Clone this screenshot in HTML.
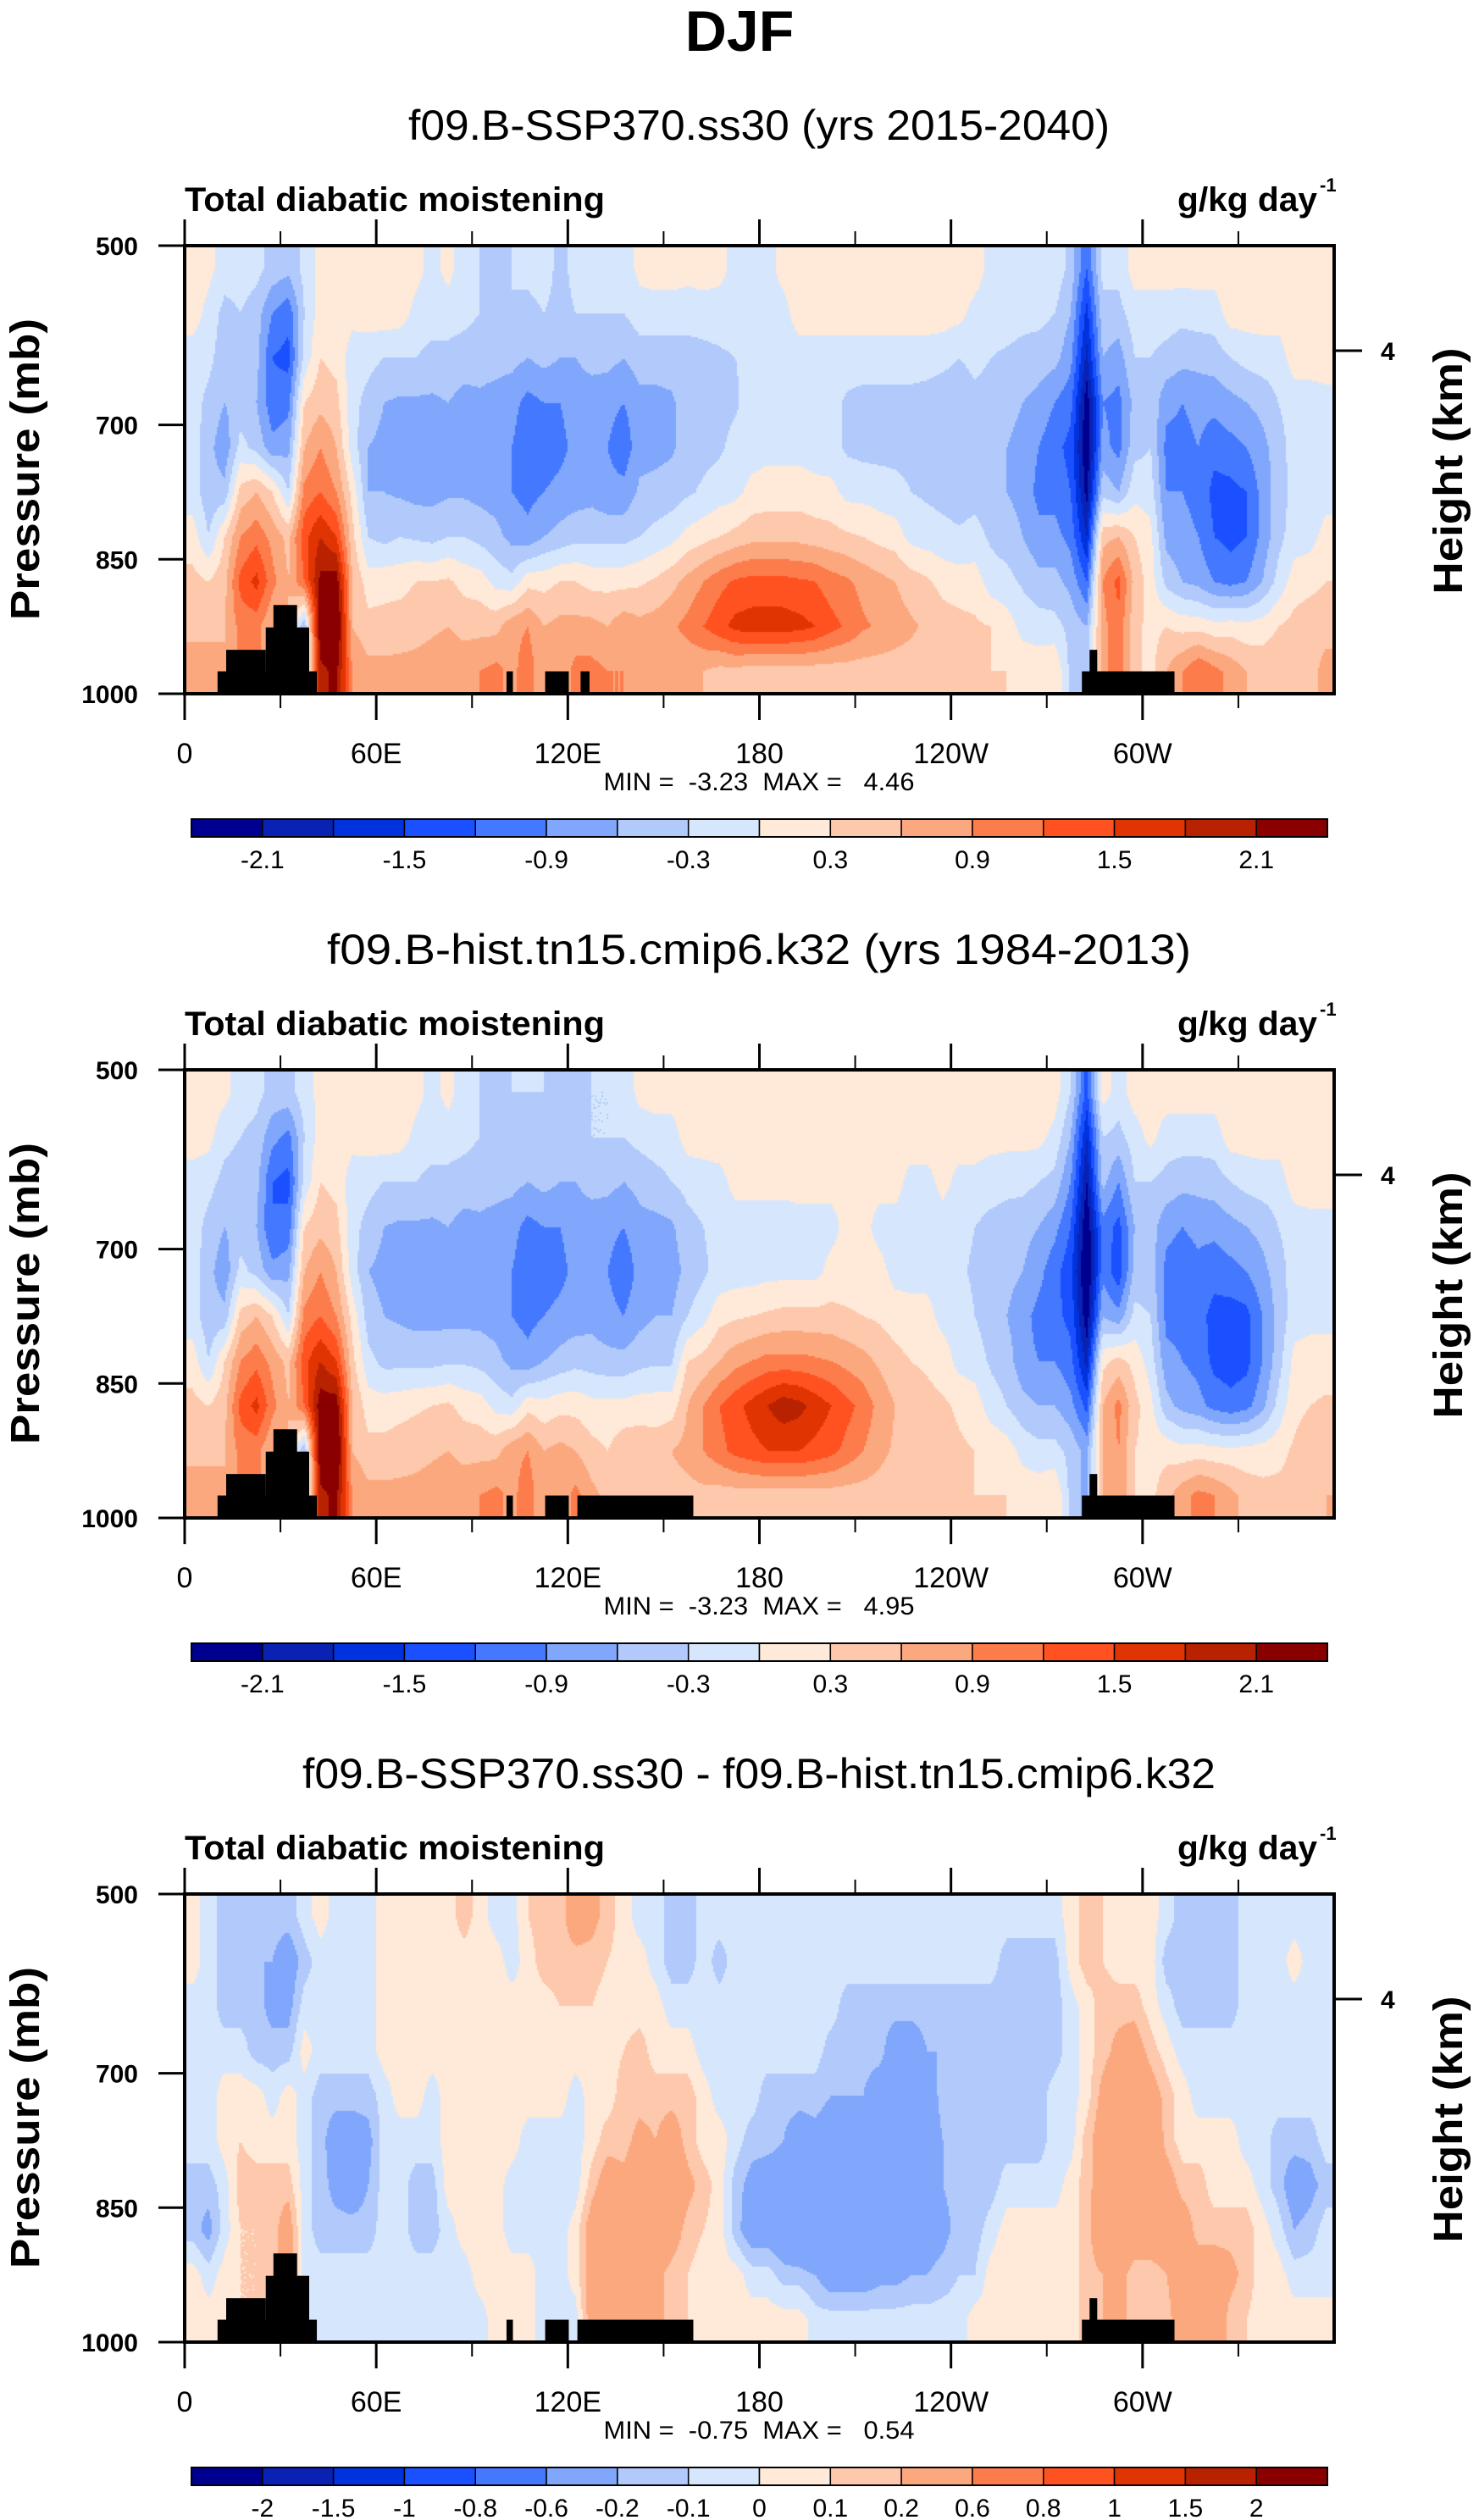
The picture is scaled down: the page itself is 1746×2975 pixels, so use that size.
<!DOCTYPE html>
<html><head><meta charset="utf-8">
<style>
html,body{margin:0;padding:0;background:#fff;}
#wrap{position:relative;width:1746px;height:2975px;overflow:hidden;background:#fff;}
canvas{position:absolute;}
svg{position:absolute;left:0;top:0;}
text{font-family:"Liberation Sans",sans-serif;fill:#000;}
</style></head>
<body>
<div id="wrap">
<canvas id="c0" width="1357" height="529" style="left:218px;top:290px"></canvas>
<canvas id="c1" width="1357" height="529" style="left:218px;top:1263px"></canvas>
<canvas id="c2" width="1357" height="529" style="left:218px;top:2236px"></canvas>
<svg id="ov" width="1746" height="2975">
<text x="873" y="60" font-size="68" font-weight="bold" text-anchor="middle">DJF</text>
</svg>
</div>
<script>
// ---- chart data ----
const levelsAbs = [-2.1,-1.8,-1.5,-1.2,-0.9,-0.6,-0.3,0,0.3,0.6,0.9,1.2,1.5,1.8,2.1];
const labelsAbs = ['-2.1','','-1.5','','-0.9','','-0.3','','0.3','','0.9','','1.5','','2.1'];
const levelsDiff = [-2,-1.5,-1,-0.8,-0.6,-0.2,-0.1,0,0.1,0.2,0.6,0.8,1,1.5,2];
const labelsDiff = ['-2','-1.5','-1','-0.8','-0.6','-0.2','-0.1','0','0.1','0.2','0.6','0.8','1','1.5','2'];
const fillColors = ['#000090','#0a22b4','#0033dd','#1a50ff','#4478ff','#80a7fb','#b2cafb','#d6e7fd','#ffe9d8','#fdc8ac','#fca87f','#fc7c4c','#ff5220','#e03402','#b82200','#8a0000'];
const lonTicks = [0,60,120,180,240,300];
const lonTickLabels = ['0','60E','120E','180','120W','60W'];
const lonMinor = [30,90,150,210,270,330];
const presTicks = [500,700,850,1000];
const presTickLabels = ['500','700','850','1000'];
const titles = ['f09.B-SSP370.ss30 (yrs 2015-2040)','f09.B-hist.tn15.cmip6.k32 (yrs 1984-2013)','f09.B-SSP370.ss30 - f09.B-hist.tn15.cmip6.k32'];
const titleWidths = [828, 1020, 1078];
const minMaxText = ['MIN =  -3.23  MAX =   4.46','MIN =  -3.23  MAX =   4.95','MIN =  -0.75  MAX =   0.54'];
// topography blocks: [lonStart, lonEnd, topPressure]
const topo1 = [[10.3,41.4,975],[13,25.4,951],[25.4,39,926],[27.8,35.2,901],[100.8,102.8,975],[112.9,120.3,975],[124,126.8,975],[281,310,975],[283.4,285.8,951]];
const topo2 = [[10.3,41.4,975],[13,25.4,951],[25.4,39,926],[27.8,35.2,901],[100.8,102.8,975],[112.9,120.3,975],[123,159.3,975],[281,310,975],[283.4,285.8,951]];
const topo3 = [[10.3,41.4,975],[13,25.4,951],[25.4,39,926],[27.8,35.2,901],[100.8,102.8,975],[112.9,120.3,975],[123,159.3,975],[281,310,975],[283.4,285.8,951]];
// field values: one row per 5-degree longitude column (2.5E..357.5E), levels 525..975 mb
const field1 = [
[0.15,0.15,-0.15,-0.15,-0.15,-0.15,0.15,0.4,0.5,0.8],
[0.1,-0.1,-0.2,-0.4,-0.5,-0.5,-0.3,0.3,0.5,0.8],
[-0.15,-0.4,-0.5,-0.6,-0.8,-0.5,0.3,0.5,0.6,0.6],
[-0.15,-0.3,-0.45,-0.45,-0.2,0.4,0.9,1.3,1.0,1.0],
[-0.2,-0.45,-0.5,-0.6,-0.4,0.6,1.1,1.6,1.0,1.0],
[-0.4,-0.9,-1.2,-1.1,-0.8,0.3,0.8,1.0,0.6,0.6],
[-0.5,-1.1,-1.3,-1.0,-0.7,-0.3,0.5,0.6,0.6,0.6],
[-0.2,-0.3,-0.2,0.3,0.6,1.0,1.4,1.2,-0.6,-0.6],
[0.1,0.15,0.3,0.5,0.9,1.2,1.8,2.2,2.4,2.0],
[0.1,0.15,0.2,0.4,0.6,0.9,1.5,2.3,2.6,2.2],
[0.15,0.1,-0.15,-0.2,-0.15,0.2,0.4,0.6,0.6,0.9],
[0.15,0.15,-0.2,-0.4,-0.6,-0.6,-0.3,0.15,0.4,0.7],
[0.2,0.2,-0.3,-0.6,-0.7,-0.6,-0.4,0.2,0.4,0.7],
[0.2,0.15,-0.3,-0.65,-0.75,-0.65,-0.3,0.2,0.45,0.7],
[0.1,-0.1,-0.3,-0.65,-0.75,-0.7,-0.35,0.3,0.5,0.7],
[-0.1,-0.15,-0.4,-0.65,-0.75,-0.7,-0.4,0.3,0.55,0.75],
[0.1,-0.15,-0.4,-0.6,-0.75,-0.65,-0.3,0.35,0.6,0.8],
[-0.15,-0.2,-0.45,-0.7,-0.8,-0.65,-0.3,0.2,0.5,0.8],
[-0.3,-0.3,-0.5,-0.65,-0.8,-0.7,-0.4,0.15,0.5,0.9],
[-0.4,-0.35,-0.5,-0.7,-0.8,-0.75,-0.5,-0.1,0.5,1.0],
[-0.3,-0.3,-0.5,-0.8,-0.9,-0.9,-0.7,-0.2,0.8,0.8],
[-0.2,-0.4,-0.6,-1.0,-1.1,-1.0,-0.8,0.2,0.9,1.1],
[-0.15,-0.3,-0.5,-0.9,-1.1,-0.9,-0.6,0.2,0.6,0.6],
[-0.4,-0.4,-0.6,-0.9,-1.0,-0.8,-0.5,0.3,0.7,0.7],
[-0.2,-0.3,-0.6,-0.75,-0.8,-0.75,-0.4,0.3,0.7,1.0],
[-0.2,-0.3,-0.5,-0.75,-0.8,-0.7,-0.4,0.2,0.7,1.0],
[-0.1,-0.3,-0.5,-0.8,-0.9,-0.8,-0.4,0.2,0.6,0.9],
[-0.2,-0.3,-0.6,-0.9,-1.1,-0.8,-0.4,0.2,0.8,0.9],
[0.1,-0.15,-0.45,-0.7,-0.7,-0.55,-0.3,0.25,0.7,0.7],
[0.15,-0.15,-0.45,-0.7,-0.7,-0.5,-0.2,0.35,0.75,0.7],
[0.15,-0.15,-0.45,-0.65,-0.65,-0.45,-0.1,0.5,0.85,0.7],
[0.1,-0.15,-0.45,-0.45,-0.45,-0.35,0.1,0.7,1.0,0.65],
[0.15,-0.15,-0.4,-0.45,-0.4,-0.25,0.2,0.9,1.2,0.6],
[0.1,-0.15,-0.35,-0.4,-0.35,-0.15,0.3,1.1,1.4,0.5],
[-0.1,-0.15,-0.3,-0.35,-0.2,-0.1,0.4,1.25,1.6,0.5],
[-0.1,-0.1,-0.2,-0.15,-0.15,0.1,0.5,1.3,1.65,0.45],
[-0.1,-0.1,-0.15,-0.15,-0.1,0.15,0.5,1.3,1.65,0.45],
[0.1,-0.1,-0.15,-0.15,-0.1,0.15,0.5,1.3,1.65,0.45],
[0.15,0.15,-0.15,-0.15,-0.1,0.15,0.5,1.25,1.6,0.45],
[0.15,0.15,-0.15,-0.15,-0.15,0.1,0.45,1.2,1.5,0.45],
[0.15,0.15,-0.15,-0.2,-0.2,0.1,0.4,1.05,1.3,0.45],
[0.15,0.15,-0.15,-0.35,-0.35,-0.1,0.35,0.95,1.15,0.45],
[0.15,0.15,-0.15,-0.4,-0.4,-0.1,0.3,0.8,0.95,0.45],
[0.15,0.15,-0.15,-0.4,-0.4,-0.15,0.2,0.7,0.85,0.45],
[0.15,0.15,-0.15,-0.4,-0.4,-0.2,0.15,0.6,0.75,0.45],
[0.15,0.15,-0.15,-0.4,-0.4,-0.3,-0.1,0.45,0.65,0.45],
[0.15,0.15,-0.15,-0.45,-0.45,-0.35,-0.15,0.35,0.55,0.4],
[0.15,0.15,-0.2,-0.5,-0.5,-0.4,-0.2,0.2,0.45,0.35],
[0.15,0.1,-0.3,-0.55,-0.55,-0.45,-0.25,0.15,0.4,0.3],
[0.15,-0.1,-0.2,-0.4,-0.45,-0.4,-0.2,0.15,0.35,0.3],
[-0.1,-0.15,-0.3,-0.45,-0.5,-0.45,-0.35,-0.15,0.3,0.3],
[-0.1,-0.15,-0.35,-0.5,-0.6,-0.6,-0.45,-0.2,0.15,0.3],
[-0.1,-0.2,-0.4,-0.6,-0.7,-0.7,-0.6,-0.35,-0.1,0.2],
[-0.1,-0.2,-0.45,-0.7,-0.9,-1.0,-0.8,-0.5,-0.15,0.2],
[-0.1,-0.3,-0.5,-0.9,-1.1,-1.0,-0.8,-0.5,-0.2,0.3],
[-0.4,-0.6,-0.8,-1.1,-1.3,-1.2,-1.0,-0.7,-0.4,-0.4],
[-1.2,-1.6,-1.9,-2.3,-2.4,-2.2,-1.8,-1.2,-0.6,-0.6],
[-0.2,-0.4,-0.6,-0.9,-0.8,-0.4,0.5,0.9,0.8,0.8],
[-0.2,-0.4,-0.75,-1.0,-1.0,-0.6,0.6,1.3,1.1,1.1],
[0.15,-0.15,-0.3,-0.5,-0.4,-0.1,0.3,0.5,0.4,0.4],
[0.15,-0.15,-0.3,-0.4,-0.3,-0.15,0.1,0.15,0.2,0.2],
[0.15,-0.15,-0.4,-0.8,-1.0,-0.9,-0.7,-0.4,0.3,0.6],
[0.15,-0.2,-0.5,-0.9,-1.0,-0.9,-0.8,-0.6,0.2,0.9],
[0.15,-0.15,-0.5,-0.8,-0.9,-1.0,-0.9,-0.7,0.2,1.2],
[0.15,-0.15,-0.45,-0.8,-1.1,-1.3,-1.2,-0.9,0.1,1.0],
[0.15,0.15,-0.3,-0.7,-1.0,-1.3,-1.3,-1.0,0.15,0.8],
[0.15,0.15,-0.2,-0.6,-0.9,-1.2,-1.2,-0.9,0.1,0.6],
[0.15,0.15,-0.15,-0.5,-0.7,-0.8,-0.8,-0.6,0.15,0.5],
[0.15,0.15,-0.15,-0.3,-0.45,-0.45,-0.4,-0.2,0.3,0.5],
[0.15,0.15,0.15,-0.15,-0.15,-0.2,-0.15,0.15,0.4,0.5],
[0.15,0.15,0.15,-0.15,-0.15,-0.15,-0.1,0.2,0.5,0.5],
[0.15,0.15,0.15,-0.1,-0.1,-0.1,0.1,0.3,0.5,0.7]
];
const field2 = [
[0.15,0.15,-0.15,-0.15,-0.15,-0.15,0.15,0.4,0.5,0.8],
[0.15,0.1,-0.2,-0.4,-0.5,-0.5,-0.3,0.3,0.5,0.8],
[0.1,-0.2,-0.4,-0.6,-0.8,-0.5,0.3,0.5,0.6,0.6],
[-0.15,-0.3,-0.45,-0.45,-0.2,0.4,0.9,1.3,1.0,1.0],
[-0.2,-0.4,-0.5,-0.6,-0.4,0.6,1.1,1.6,1.0,1.0],
[-0.4,-0.8,-1.2,-1.2,-0.8,0.3,0.8,1.0,0.6,0.6],
[-0.4,-1.0,-1.3,-1.1,-0.7,-0.3,0.5,0.6,0.6,0.6],
[-0.15,-0.3,-0.2,0.3,0.6,1.0,1.4,1.2,-0.6,-0.6],
[0.1,0.15,0.3,0.5,0.9,1.2,1.8,2.3,2.4,2.0],
[0.1,0.15,0.2,0.4,0.6,0.9,1.5,2.3,2.6,2.2],
[0.15,0.1,-0.15,-0.2,-0.15,0.2,0.4,0.6,0.6,0.9],
[0.15,0.15,-0.2,-0.4,-0.6,-0.45,-0.2,0.15,0.4,0.7],
[0.2,0.2,-0.3,-0.6,-0.7,-0.6,-0.4,0.15,0.4,0.7],
[0.2,0.15,-0.3,-0.65,-0.75,-0.65,-0.4,0.2,0.45,0.7],
[0.1,-0.1,-0.3,-0.65,-0.75,-0.7,-0.4,0.25,0.5,0.7],
[-0.1,-0.15,-0.4,-0.65,-0.75,-0.7,-0.4,0.3,0.55,0.75],
[0.1,-0.15,-0.4,-0.6,-0.75,-0.7,-0.35,0.35,0.6,0.8],
[-0.15,-0.2,-0.45,-0.7,-0.8,-0.7,-0.35,0.2,0.5,0.8],
[-0.3,-0.3,-0.5,-0.65,-0.8,-0.7,-0.4,0.15,0.5,0.9],
[-0.4,-0.35,-0.5,-0.7,-0.8,-0.75,-0.5,-0.1,0.5,1.0],
[-0.3,-0.3,-0.5,-0.8,-0.9,-0.9,-0.7,-0.2,0.8,0.8],
[-0.3,-0.4,-0.6,-1.0,-1.1,-1.0,-0.8,0.2,0.9,1.1],
[-0.3,-0.3,-0.5,-0.9,-1.1,-0.9,-0.6,0.1,0.6,0.6],
[-0.4,-0.4,-0.6,-0.9,-1.0,-0.8,-0.5,0.2,0.7,0.7],
[-0.4,-0.3,-0.6,-0.75,-0.8,-0.75,-0.4,0.2,0.6,1.0],
[-0.3,-0.3,-0.5,-0.75,-0.8,-0.7,-0.45,0.1,0.4,0.7],
[-0.3,-0.3,-0.5,-0.8,-0.9,-0.8,-0.5,0.1,0.3,0.5],
[-0.2,-0.3,-0.6,-0.9,-1.1,-0.9,-0.5,0.1,0.5,0.5],
[0.1,-0.2,-0.5,-0.7,-0.8,-0.7,-0.4,0.15,0.5,0.5],
[0.15,-0.15,-0.4,-0.7,-0.75,-0.6,-0.35,0.15,0.45,0.45],
[0.15,-0.15,-0.3,-0.65,-0.75,-0.6,-0.35,0.15,0.6,0.5],
[0.15,0.15,-0.2,-0.4,-0.5,-0.3,0.3,0.6,0.7,0.5],
[0.15,0.15,-0.15,-0.3,-0.35,-0.1,0.4,0.9,0.9,0.5],
[0.15,0.15,-0.1,-0.2,-0.2,0.2,0.6,1.2,1.1,0.45],
[0.15,0.15,0.1,-0.15,-0.15,0.25,0.8,1.4,1.3,0.45],
[0.15,0.15,0.1,-0.15,-0.15,0.3,0.9,1.6,1.4,0.45],
[0.15,0.15,0.1,-0.15,-0.1,0.35,1.0,1.8,1.5,0.45],
[0.15,0.15,0.1,-0.15,-0.1,0.4,1.0,2.0,1.5,0.45],
[0.15,0.15,0.1,-0.1,-0.1,0.4,1.0,1.9,1.5,0.45],
[0.15,0.15,0.1,-0.1,-0.1,0.4,0.95,1.7,1.4,0.45],
[0.15,0.15,0.1,-0.1,0.1,0.4,0.9,1.5,1.3,0.45],
[0.15,0.15,0.1,0.1,0.1,0.35,0.8,1.3,1.1,0.45],
[0.15,0.15,0.1,0.1,0.1,0.3,0.7,1.1,0.9,0.45],
[0.15,0.15,0.1,-0.1,0.1,0.25,0.55,0.8,0.7,0.45],
[0.15,0.15,0.1,-0.1,-0.1,0.15,0.4,0.6,0.55,0.4],
[0.15,0.15,-0.1,-0.1,-0.1,0.1,0.3,0.45,0.5,0.35],
[0.15,0.15,-0.1,-0.15,-0.1,0.1,0.25,0.4,0.45,0.35],
[0.15,0.15,0.1,-0.15,-0.15,-0.1,0.15,0.35,0.4,0.3],
[0.15,0.15,-0.1,-0.2,-0.25,-0.15,-0.1,0.25,0.35,0.3],
[0.15,0.15,-0.1,-0.3,-0.35,-0.3,-0.15,0.15,0.3,0.3],
[0.15,0.1,-0.15,-0.4,-0.45,-0.45,-0.35,-0.15,0.25,0.3],
[0.15,0.1,-0.2,-0.45,-0.5,-0.6,-0.45,-0.3,0.15,0.3],
[0.15,0.1,-0.2,-0.5,-0.6,-0.8,-0.8,-0.5,-0.1,0.2],
[0.15,0.1,-0.3,-0.6,-0.8,-1.0,-0.9,-0.6,-0.2,0.2],
[0.15,-0.1,-0.4,-0.8,-1.1,-1.1,-0.9,-0.6,-0.2,0.3],
[-0.3,-0.6,-0.9,-1.2,-1.4,-1.3,-1.1,-0.8,-0.4,-0.4],
[-1.3,-1.8,-2.1,-2.4,-2.5,-2.3,-1.9,-1.3,-0.7,-0.7],
[0.15,-0.3,-0.5,-1.0,-1.0,-0.6,0.2,0.6,0.6,0.6],
[-0.15,-0.4,-0.9,-1.3,-1.4,-0.8,0.4,1.0,0.9,0.9],
[0.15,-0.15,-0.3,-0.6,-0.5,-0.2,0.2,0.4,0.3,0.3],
[0.15,0.1,-0.3,-0.45,-0.45,-0.3,-0.15,0.1,0.2,0.2],
[0.15,-0.15,-0.4,-0.8,-1.0,-1.0,-0.8,-0.5,0.2,0.5],
[0.15,-0.15,-0.5,-0.9,-1.1,-1.0,-0.9,-0.7,0.1,0.8],
[0.15,-0.15,-0.5,-0.8,-1.0,-1.1,-1.0,-0.8,0.15,1.0],
[0.15,-0.15,-0.45,-0.8,-1.1,-1.3,-1.3,-1.0,0.1,0.9],
[0.15,0.15,-0.3,-0.7,-1.0,-1.35,-1.35,-1.1,0.1,0.7],
[0.15,0.15,-0.2,-0.6,-0.9,-1.3,-1.3,-1.0,0.1,0.5],
[0.15,0.15,-0.15,-0.5,-0.7,-0.9,-0.9,-0.7,0.15,0.4],
[0.15,0.15,-0.15,-0.3,-0.45,-0.5,-0.45,-0.2,0.2,0.4],
[0.15,0.15,0.15,-0.15,-0.15,-0.15,0.1,0.2,0.35,0.4],
[0.2,0.15,0.15,-0.1,-0.15,-0.1,0.15,0.3,0.5,0.5],
[0.15,0.15,0.15,-0.1,-0.1,-0.1,0.15,0.35,0.5,0.6]
];
const field3 = [
[0.05,0.05,-0.05,-0.05,-0.05,-0.05,-0.15,-0.15,0.05,0.05],
[-0.05,-0.05,-0.05,-0.05,-0.05,-0.05,-0.15,-0.25,-0.05,0.05],
[-0.15,-0.15,-0.15,-0.05,0.05,0.05,-0.05,-0.05,0.05,0.05],
[-0.15,-0.2,-0.15,-0.05,0.05,0.1,0.15,0.1,0.1,0.1],
[-0.15,-0.2,-0.15,-0.15,0.05,0.05,0.15,0.1,0.1,0.1],
[-0.15,-0.2,-0.25,-0.15,-0.05,0.05,0.15,0.15,0.15,0.15],
[-0.15,-0.3,-0.25,-0.15,0.05,0.05,0.15,0.3,0.3,0.3],
[-0.05,-0.15,-0.05,0.05,-0.05,-0.05,-0.05,-0.05,-0.05,-0.05],
[0.05,-0.05,-0.05,-0.05,-0.15,-0.15,-0.15,-0.15,-0.05,-0.05],
[-0.05,-0.05,-0.05,-0.05,-0.15,-0.3,-0.25,-0.15,-0.05,-0.05],
[-0.05,-0.05,-0.05,-0.05,-0.15,-0.3,-0.3,-0.15,-0.05,-0.05],
[-0.05,-0.05,-0.05,-0.05,-0.15,-0.25,-0.2,-0.15,-0.05,-0.05],
[0.05,0.05,0.05,0.05,-0.05,-0.05,-0.05,-0.05,-0.05,-0.05],
[0.05,0.05,0.05,0.05,0.05,-0.05,-0.05,-0.05,-0.05,-0.05],
[0.05,0.05,0.05,0.05,0.05,-0.05,-0.15,-0.15,-0.05,-0.05],
[0.05,0.05,0.05,0.05,-0.05,-0.05,-0.15,-0.15,-0.05,-0.05],
[0.05,0.05,0.05,0.05,0.05,0.05,0.05,-0.05,-0.05,-0.05],
[0.15,0.05,0.05,0.05,0.05,0.05,0.05,0.05,-0.05,-0.05],
[0.05,0.05,0.05,0.05,0.05,0.05,0.05,0.05,0.05,-0.05],
[-0.05,0.05,0.05,0.05,0.05,0.05,0.05,0.05,0.05,0.05],
[-0.05,-0.05,0.05,0.05,0.05,0.05,-0.05,-0.05,0.05,0.05],
[0.1,0.05,0.05,0.05,0.05,-0.05,-0.05,-0.05,0.05,0.05],
[0.15,0.15,0.05,0.05,0.05,-0.05,-0.05,-0.05,-0.05,-0.05],
[0.15,0.15,0.1,0.05,0.05,-0.05,-0.05,-0.05,-0.05,-0.05],
[0.3,0.15,0.1,0.05,-0.05,-0.05,-0.05,0.05,0.05,-0.05],
[0.25,0.15,0.1,0.05,0.05,0.05,0.15,0.3,0.3,0.3],
[0.15,0.1,0.05,0.05,0.05,0.15,0.3,0.4,0.3,0.3],
[0.05,0.05,0.05,0.1,0.15,0.15,0.25,0.35,0.3,0.3],
[-0.05,0.05,0.05,0.15,0.15,0.25,0.35,0.4,0.3,0.3],
[-0.05,-0.05,0.05,0.05,0.15,0.2,0.3,0.4,0.25,0.25],
[-0.15,-0.15,-0.05,0.05,0.15,0.3,0.4,0.3,0.15,0.15],
[-0.15,-0.15,-0.05,0.05,0.15,0.15,0.25,0.15,0.1,0.1],
[-0.05,-0.05,-0.05,-0.05,0.05,0.05,0.15,0.1,0.05,0.05],
[-0.05,-0.15,-0.05,-0.05,-0.05,0.05,0.05,0.05,0.05,0.05],
[-0.05,-0.05,-0.05,-0.05,-0.05,-0.05,-0.15,-0.15,0.05,0.05],
[-0.05,-0.05,-0.05,-0.05,-0.05,-0.15,-0.25,-0.3,-0.05,0.05],
[-0.05,-0.05,-0.05,-0.05,-0.15,-0.15,-0.3,-0.3,-0.05,0.05],
[-0.05,-0.05,-0.05,-0.05,-0.15,-0.2,-0.3,-0.35,-0.15,0.05],
[-0.05,-0.05,-0.05,-0.05,-0.15,-0.3,-0.35,-0.45,-0.15,0.05],
[-0.05,-0.05,-0.05,-0.05,-0.15,-0.25,-0.35,-0.6,-0.2,-0.05],
[-0.05,-0.05,-0.05,-0.15,-0.2,-0.3,-0.4,-0.5,-0.3,-0.05],
[-0.05,-0.05,-0.15,-0.15,-0.2,-0.3,-0.4,-0.45,-0.3,-0.05],
[-0.05,-0.05,-0.15,-0.15,-0.2,-0.3,-0.4,-0.4,-0.3,-0.05],
[-0.05,-0.05,-0.15,-0.15,-0.3,-0.3,-0.35,-0.4,-0.25,-0.05],
[-0.05,-0.05,-0.15,-0.3,-0.3,-0.35,-0.4,-0.35,-0.25,-0.05],
[-0.05,-0.05,-0.15,-0.3,-0.35,-0.35,-0.35,-0.35,-0.2,-0.05],
[-0.05,-0.05,-0.15,-0.2,-0.3,-0.3,-0.3,-0.3,-0.2,-0.05],
[-0.05,-0.05,-0.15,-0.2,-0.15,-0.2,-0.2,-0.25,-0.15,-0.05],
[-0.05,-0.05,-0.15,-0.15,-0.15,-0.15,-0.15,-0.15,-0.1,-0.05],
[-0.05,-0.05,-0.15,-0.15,-0.15,-0.2,-0.15,-0.15,-0.1,0.05],
[-0.05,-0.05,-0.15,-0.15,-0.15,-0.15,-0.15,-0.05,0.05,0.05],
[-0.05,-0.15,-0.15,-0.15,-0.15,-0.15,-0.05,0.05,0.05,0.05],
[-0.05,-0.15,-0.15,-0.15,-0.15,-0.15,-0.05,0.05,0.05,0.05],
[-0.05,-0.15,-0.15,-0.15,-0.15,-0.15,-0.05,0.05,0.05,0.05],
[-0.05,-0.15,-0.15,-0.15,-0.05,-0.05,-0.05,0.05,0.05,0.05],
[0.05,0.05,-0.05,-0.05,-0.05,-0.05,0.05,0.05,0.05,0.05],
[0.15,0.15,0.05,0.05,0.05,0.15,0.15,0.15,0.15,0.15],
[0.1,0.1,0.15,0.15,0.25,0.3,0.3,0.35,0.2,0.2],
[0.05,0.05,0.15,0.25,0.35,0.4,0.4,0.35,0.25,0.25],
[0.05,0.05,0.15,0.3,0.4,0.4,0.4,0.3,0.15,0.15],
[0.05,0.05,0.05,0.15,0.3,0.4,0.35,0.3,0.15,0.15],
[-0.05,-0.15,-0.05,0.05,0.15,0.15,0.3,0.3,0.2,0.15],
[-0.15,-0.15,-0.15,-0.05,0.05,0.05,0.15,0.3,0.3,0.3],
[-0.15,-0.2,-0.15,-0.05,-0.05,0.05,0.15,0.15,0.3,0.4],
[-0.15,-0.2,-0.15,-0.05,-0.05,0.05,0.05,0.15,0.3,0.35],
[-0.15,-0.15,-0.15,-0.05,-0.05,0.05,0.05,0.15,0.25,0.15],
[-0.05,-0.05,-0.05,-0.05,-0.05,-0.05,0.05,0.15,0.15,0.1],
[-0.05,-0.05,-0.05,-0.05,-0.05,-0.05,-0.05,0.05,0.05,0.05],
[-0.05,-0.05,-0.05,-0.05,-0.05,-0.15,-0.15,-0.05,0.05,0.05],
[-0.05,0.05,-0.05,-0.05,-0.05,-0.15,-0.3,-0.2,-0.05,0.05],
[-0.05,-0.05,-0.05,-0.05,-0.05,-0.15,-0.25,-0.15,-0.05,0.05],
[-0.05,-0.05,-0.05,-0.05,-0.05,-0.05,-0.15,-0.05,-0.05,0.05]
];

// ---- layout ----
const PX0 = 218, PW = 1357, PH = 529;
const panelTop = [290, 1263, 2236];
const panels = [
  {field: field1, topo: topo1, levels: levelsAbs, labels: labelsAbs},
  {field: field2, topo: topo2, levels: levelsAbs, labels: labelsAbs},
  {field: field3, topo: topo3, levels: levelsDiff, labels: labelsDiff}
];
const NS = 'http://www.w3.org/2000/svg';
const ov = document.getElementById('ov');
function xOf(lon){ return PX0 + lon/360*PW; }
function yOf(top, p){ return top + (p-500)/500*PH; }
function mk(tag, attrs, parent){
  const e = document.createElementNS(NS, tag);
  for (const k in attrs) e.setAttribute(k, attrs[k]);
  (parent||ov).appendChild(e);
  return e;
}
function sample(field, lon, p){
  let fi = (lon-2.5)/5; fi = Math.max(0, Math.min(field.length-1, fi));
  let fj = (p-525)/50; fj = Math.max(0, Math.min(9, fj));
  const i0 = Math.floor(fi), j0 = Math.floor(fj);
  const i1 = Math.min(field.length-1, i0+1), j1 = Math.min(9, j0+1);
  const a = fi-i0, b = fj-j0;
  return (1-a)*(1-b)*field[i0][j0] + a*(1-b)*field[i1][j0] + (1-a)*b*field[i0][j1] + a*b*field[i1][j1];
}
function colorFor(levels, v){
  let k = 0; while (k < levels.length && v >= levels[k]) k++;
  return fillColors[k];
}
panels.forEach((P, pi) => {
  const top = panelTop[pi];
  const cv = document.getElementById('c'+pi);
  const ctx = cv.getContext('2d');
  for (let px = 0; px < PW; px += 2) {
    const lon = (px+1)/PW*360;
    for (let py = 0; py < PH; py += 2) {
      const p = 500 + (py+1)/PH*500;
      ctx.fillStyle = colorFor(P.levels, sample(P.field, lon, p));
      ctx.fillRect(px, py, 2, 2);
    }
  }
  const g = mk('g', {});
  
  
  const st = mk('text', {x: 896, y: top-125, 'font-size': 50, 'text-anchor': 'middle', textLength: titleWidths[pi], lengthAdjust: 'spacingAndGlyphs'}, g);
  
  
  st.textContent = titles[pi];
  const lt = mk('text', {x: 218, y: top-41, 'font-size': 40, 'font-weight': 'bold', textLength: 496, lengthAdjust: 'spacingAndGlyphs'}, g);
  
  
  lt.textContent = 'Total diabatic moistening';
  const ut = mk('text', {x: 1390, y: top-41, 'font-size': 40, 'font-weight': 'bold', textLength: 165, lengthAdjust: 'spacingAndGlyphs'}, g);
  
  
  ut.textContent = 'g/kg day';
  const sup = mk('text', {x: 1558, y: top-64, 'font-size': 22, 'font-weight': 'bold'}, g);
  
  
  sup.textContent = '-1';
  P.topo.forEach(t => {
    const r = mk('rect', {x: xOf(t[0]), y: yOf(top, t[2]), width: xOf(t[1])-xOf(t[0]), height: yOf(top,1000)-yOf(top,t[2]), fill: '#000'}, g);
    
    
  });
  const fr = mk('rect', {x: PX0, y: top, width: PW, height: PH, fill: 'none', stroke: '#000', 'stroke-width': 4}, g);
  
  
  lonTicks.forEach((lon, i) => {
    const x = xOf(lon);
    const t1 = mk('line', {x1: x, x2: x, y1: top-31, y2: top, stroke: '#000', 'stroke-width': 3}, g);
    
    
    const t2 = mk('line', {x1: x, x2: x, y1: top+PH, y2: top+PH+31, stroke: '#000', 'stroke-width': 3}, g);
    
    
    const tl = mk('text', {x: x, y: top+PH+82, 'font-size': 34, 'text-anchor': 'middle'}, g);
    
    
    tl.textContent = lonTickLabels[i];
  });
  lonMinor.forEach(lon => {
    const x = xOf(lon);
    const m1 = mk('line', {x1: x, x2: x, y1: top-17, y2: top, stroke: '#000', 'stroke-width': 2}, g);
    
    
    const m2 = mk('line', {x1: x, x2: x, y1: top+PH, y2: top+PH+17, stroke: '#000', 'stroke-width': 2}, g);
    
    
  });
  presTicks.forEach((p, i) => {
    const y = yOf(top, p);
    const yt = mk('line', {x1: 187, x2: PX0, y1: y, y2: y, stroke: '#000', 'stroke-width': 3}, g);
    
    
    const yl = mk('text', {x: 163, y: y+11, 'font-size': 30, 'font-weight': 'bold', 'text-anchor': 'end'}, g);
    
    
    yl.textContent = presTickLabels[i];
  });
  const ya = mk('text', {x: 0, y: 0, 'font-size': 48, 'font-weight': 'bold', 'text-anchor': 'middle', transform: 'translate(46,' + (top+264) + ') rotate(-90)', textLength: 356, lengthAdjust: 'spacingAndGlyphs'}, g);
  
  
  ya.textContent = 'Pressure (mb)';
  const ry = top + 124;
  const rt = mk('line', {x1: PX0+PW, x2: PX0+PW+33, y1: ry, y2: ry, stroke: '#000', 'stroke-width': 3}, g);
  
  
  const rl = mk('text', {x: 1630, y: ry+11, 'font-size': 30, 'font-weight': 'bold'}, g);
  
  
  rl.textContent = '4';
  const ra = mk('text', {x: 0, y: 0, 'font-size': 48, 'font-weight': 'bold', 'text-anchor': 'middle', transform: 'translate(1726,' + (top+266) + ') rotate(-90)', textLength: 291, lengthAdjust: 'spacingAndGlyphs'}, g);
  
  
  ra.textContent = 'Height (km)';
  const mm = mk('text', {x: 896, y: top+643, 'font-size': 30, 'text-anchor': 'middle', 'xml:space': 'preserve', style: 'white-space:pre', textLength: 367, lengthAdjust: 'spacingAndGlyphs'}, g);
  
  
  mm.textContent = minMaxText[pi];
  const cbTop = top + 677, cbX0 = 226, cbX1 = 1567, cbH = 21;
  const bw = (cbX1-cbX0)/fillColors.length;
  fillColors.forEach((c, k) => {
    const b = mk('rect', {x: cbX0 + k*bw, y: cbTop, width: bw, height: cbH, fill: c, stroke: '#000', 'stroke-width': 1.5}, g);
    
    
  });
  const cbf = mk('rect', {x: cbX0, y: cbTop, width: cbX1-cbX0, height: cbH, fill: 'none', stroke: '#000', 'stroke-width': 2}, g);
  
  
  P.labels.forEach((lab, k) => {
    if (!lab) return;
    const cl = mk('text', {x: cbX0 + (k+1)*bw, y: cbTop + 58, 'font-size': 30, 'text-anchor': 'middle'}, g);
    
    
    cl.textContent = lab;
  });
});
</script>
</body></html>
